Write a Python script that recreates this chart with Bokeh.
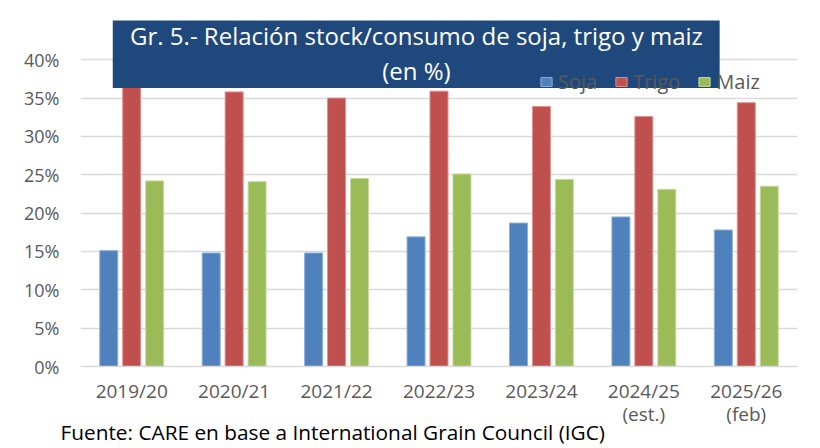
from bokeh.plotting import figure
from bokeh.models import (FactorRange, Range1d, FixedTicker, PrintfTickFormatter,
                          BoxAnnotation, Label, Legend, LegendItem, ColumnDataSource, Title)
from bokeh.transform import dodge
from bokeh.embed import file_html
from bokeh.resources import INLINE

# ---- data ----
campaigns = ["2019/20", "2020/21", "2021/22", "2022/23", "2023/24",
             "2024/25\n(est.)", "2025/26\n(feb)"]
soja = [15.1, 14.8, 14.8, 16.9, 18.7, 19.5, 17.8]
trigo = [37.0, 35.8, 35.0, 35.9, 33.9, 32.6, 34.4]
maiz = [24.2, 24.1, 24.5, 25.1, 24.4, 23.1, 23.5]
y_ticks = [0, 5, 10, 15, 20, 25, 30, 35, 40]
title_line1 = "Gr. 5.- Relación stock/consumo de soja, trigo y maiz"
title_line2 = "(en %)"
source_note = "Fuente: CARE en base a International Grain Council (IGC)"

src = ColumnDataSource(dict(c=campaigns, soja=soja, trigo=trigo, maiz=maiz))

FONT = "Open Sans"
GRAY = "#595959"

p = figure(x_range=FactorRange(*campaigns, range_padding=0),
           y_range=Range1d(0, 45.63),
           width=820, height=448, output_backend="svg", toolbar_location=None,
           min_border_left=80, min_border_right=23, min_border_top=16,
           min_border_bottom=82)
p.outline_line_color = None
p.background_fill_color = "white"
p.border_fill_color = "white"

bw = 0.176
r_soja = p.vbar(x=dodge("c", -0.224, range=p.x_range), top="soja", width=bw, source=src,
                fill_color="#4F81BD", line_color="#8FB0DA", line_width=1)
r_trigo = p.vbar(x=dodge("c", 0.0, range=p.x_range), top="trigo", width=bw, source=src,
                 fill_color="#C0504D", line_color="#DD9593", line_width=1)
r_maiz = p.vbar(x=dodge("c", 0.224, range=p.x_range), top="maiz", width=bw, source=src,
                fill_color="#9BBB59", line_color="#C7DBA0", line_width=1)

p.xgrid.grid_line_color = None
p.ygrid.grid_line_color = "#D9D9D9"
p.ygrid.grid_line_width = 1.5
p.yaxis.ticker = FixedTicker(ticks=y_ticks)
p.yaxis.formatter = PrintfTickFormatter(format="%d%%")
p.yaxis.axis_line_color = None
p.yaxis.major_tick_line_color = None
p.yaxis.minor_tick_line_color = None
p.yaxis.major_label_standoff = 15
p.yaxis.major_label_text_font = FONT
p.yaxis.major_label_text_font_size = "18px"
p.yaxis.major_label_text_color = GRAY

p.xaxis.axis_line_color = "#D9D9D9"
p.xaxis.axis_line_width = 1.5
p.xaxis.major_tick_line_color = None
p.xaxis.minor_tick_line_color = None
p.xaxis.major_label_standoff = 5
p.xaxis.major_label_text_font = FONT
p.xaxis.major_label_text_font_size = "19px"
p.xaxis.major_label_text_line_height = 0.9
p.xaxis.major_label_text_color = GRAY

# title box
box = BoxAnnotation(left=0.315, right=6.24, bottom=36.3, top=45.1,
                    fill_color="#1F497D", fill_alpha=1.0, line_color=None)
p.add_layout(box)
t1 = Label(x=3.28, y=43.1, text=title_line1, text_align="center", text_baseline="middle",
           text_font=FONT, text_font_size="24px", text_color="white")
t2 = Label(x=3.28, y=38.6, text=title_line2, text_align="center", text_baseline="middle",
           text_font=FONT, text_font_size="24px", text_color="white")
p.add_layout(t1)
p.add_layout(t2)

legend = Legend(items=[LegendItem(label="Soja", renderers=[r_soja]),
                       LegendItem(label="Trigo", renderers=[r_trigo]),
                       LegendItem(label="Maiz", renderers=[r_maiz])],
                location=(459, 271), orientation="horizontal",
                border_line_color=None, background_fill_alpha=0,
                padding=0, margin=0, spacing=17, label_standoff=5,
                glyph_width=14, glyph_height=11,
                label_text_font=FONT, label_text_font_size="20px",
                label_text_color=GRAY)
p.add_layout(legend)

note = Title(text=source_note, align="left", offset=-20, standoff=-28,
             text_font=FONT, text_font_size="20.8px", text_font_style="normal",
             text_color="black")
p.add_layout(note, "below")

open("out.html", "w").write(file_html(p, INLINE))
